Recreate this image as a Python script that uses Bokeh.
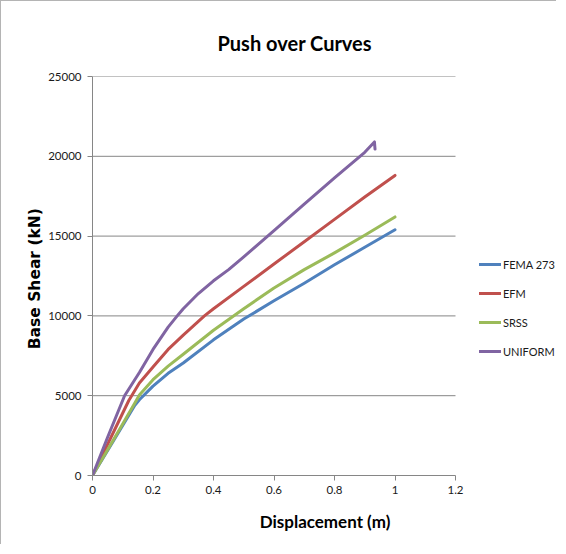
from bokeh.plotting import figure
from bokeh.models import Legend, LegendItem, Range1d, FixedTicker
from bokeh.embed import file_html
from bokeh.resources import INLINE

# Data
disp_fema = [0, 0.07, 0.14, 0.155, 0.2, 0.25, 0.3, 0.4, 0.5, 0.6, 0.7, 0.8, 0.9, 1.0]
shear_fema = [0, 2200, 4400, 4750, 5600, 6400, 7050, 8500, 9800, 10950, 12050, 13200, 14300, 15400]

disp_efm = [0, 0.06, 0.12, 0.155, 0.2, 0.25, 0.3, 0.37, 0.4, 0.5, 0.6, 0.7, 0.8, 0.9, 1.0]
shear_efm = [0, 2350, 4700, 5800, 6800, 7900, 8800, 10000, 10450, 11850, 13250, 14650, 16050, 17450, 18800]

disp_srss = [0, 0.07, 0.14, 0.155, 0.2, 0.25, 0.3, 0.4, 0.5, 0.6, 0.7, 0.8, 0.9, 1.0]
shear_srss = [0, 2250, 4550, 5050, 6000, 6850, 7600, 9100, 10450, 11750, 12900, 13950, 15050, 16200]

disp_uniform = [0, 0.05, 0.106, 0.155, 0.2, 0.25, 0.28, 0.3, 0.35, 0.4, 0.45, 0.5, 0.6, 0.7, 0.8, 0.9, 0.932, 0.934]
shear_uniform = [0, 2400, 5000, 6450, 7900, 9300, 10000, 10450, 11400, 12200, 12900, 13700, 15350, 17000, 18650, 20250, 20900, 20450]

series_names = ["FEMA 273", "EFM", "SRSS", "UNIFORM"]
series_colors = ["#4F81BD", "#C0504D", "#9BBB59", "#8064A2"]

x_ticks = [0, 0.2, 0.4, 0.6, 0.8, 1.0, 1.2]
x_tick_labels = ["0", "0.2", "0.4", "0.6", "0.8", "1", "1.2"]
y_ticks = [0, 5000, 10000, 15000, 20000, 25000]
x_min, x_max = 0, 1.2
y_min, y_max = 0, 25000

# layout: the axis area is 363 px wide for 0..1.2; the frame is widened to the
# right so that the legend (outside the axis area) can sit inside the frame
W, H = 556, 544
left, right, top, bottom = 91, 0, 75, 70
frame_w = W - left - right
view_max = x_max * frame_w / 363.0

p = figure(width=W, height=H, output_backend="svg", toolbar_location=None,
           x_range=Range1d(x_min, view_max), y_range=Range1d(y_min, y_max),
           min_border_left=left, min_border_right=right, min_border_top=top, min_border_bottom=bottom,
           title="Push over Curves")
p.styles = {"border-top": "1px solid #b4b4b4", "border-left": "1px solid #b4b4b4"}

p.title.align = "left"
p.title.text_font = "Lato"
p.title.text_font_size = "20px"
p.title.text_font_style = "bold"
p.title.text_color = "#000000"
p.title.offset = 125
p.title.standoff = 43

p.outline_line_color = None
p.background_fill_color = "white"
p.border_fill_color = "white"

grey = "#868686"
p.xgrid.grid_line_color = None
p.ygrid.grid_line_color = None
grid_levels = y_ticks[1:]
p.segment(x0=[x_min] * len(grid_levels), y0=grid_levels,
          x1=[x_max] * len(grid_levels), y1=grid_levels,
          line_color=grey, line_width=1)

p.xaxis.ticker = FixedTicker(ticks=x_ticks)
p.xaxis.major_label_overrides = {t: l for t, l in zip(x_ticks, x_tick_labels)}
p.xaxis.bounds = (x_min, x_max)
p.yaxis.ticker = FixedTicker(ticks=y_ticks)
for ax in (p.xaxis, p.yaxis):
    ax.axis_line_color = grey
    ax.major_tick_line_color = grey
    ax.major_tick_out = 5
    ax.major_tick_in = 0
    ax.minor_tick_line_color = None
    ax.major_label_text_font = "Lato"
    ax.major_label_text_font_size = "11.5px"
    ax.major_label_text_color = "#1a1a1a"
    ax.major_label_standoff = 5
p.yaxis.major_label_standoff = 6

p.xaxis.axis_label = "Displacement (m)"
p.xaxis.axis_label_text_font = "Lato"
p.xaxis.axis_label_text_font_size = "17px"
p.xaxis.axis_label_text_font_style = "bold"
p.xaxis.axis_label_text_color = "#000000"
p.xaxis.axis_label_standoff = 14

p.yaxis.axis_label = "Base Shear  (kN)"
p.yaxis.axis_label_text_font = "DejaVu Sans"
p.yaxis.axis_label_text_font_size = "15.5px"
p.yaxis.axis_label_text_font_style = "bold"
p.yaxis.axis_label_text_color = "#000000"
p.yaxis.axis_label_standoff = 1

renderers = []
for xs, ys, c in [(disp_fema, shear_fema, series_colors[0]),
                  (disp_efm, shear_efm, series_colors[1]),
                  (disp_srss, shear_srss, series_colors[2]),
                  (disp_uniform, shear_uniform, series_colors[3])]:
    r = p.line(xs, ys, line_color=c, line_width=3, line_join="round", line_cap="round")
    renderers.append(r)

legend = Legend(items=[LegendItem(label=n, renderers=[r]) for n, r in zip(series_names, renderers)],
                location=(387, 114), orientation="vertical")
legend.border_line_color = None
legend.background_fill_alpha = 0
legend.padding = 0
legend.margin = 0
legend.spacing = 9
legend.glyph_width = 22
legend.glyph_height = 20
legend.label_height = 20
legend.label_standoff = 2
legend.label_text_font = "Lato"
legend.label_text_font_size = "11px"
legend.label_text_color = "#1a1a1a"
p.add_layout(legend, "center")

open("out.html", "w").write(file_html(p, INLINE))
